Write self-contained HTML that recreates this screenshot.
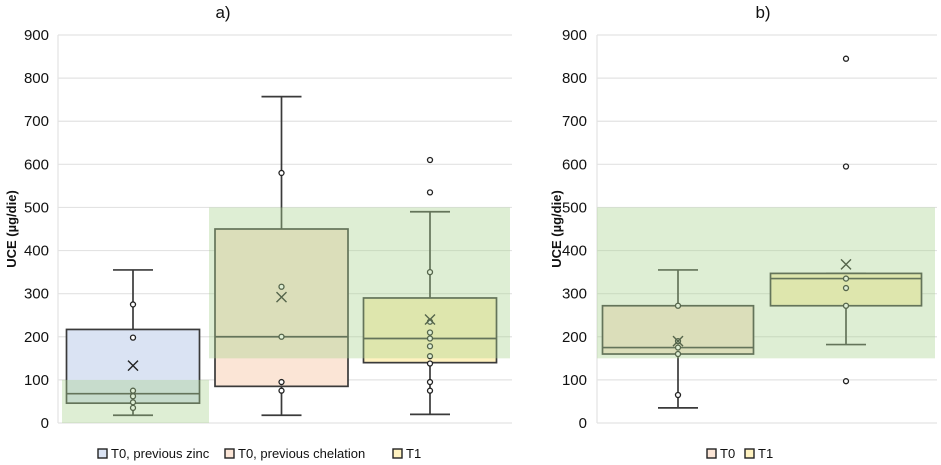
<!DOCTYPE html>
<html><head><meta charset="utf-8">
<style>
html,body{margin:0;padding:0;background:#fff;}
svg{display:block;font-family:"Liberation Sans",Calibri,sans-serif;}
</style></head>
<body>
<svg id="chart" width="941" height="465" viewBox="0 0 941 465" xmlns="http://www.w3.org/2000/svg"></svg>
<script>
// ---- Panel a data ----
const catsA = ["T0, previous zinc", "T0, previous chelation", "T1"];
const q1A = [46, 85, 140];
const medA = [68, 200, 196];
const q3A = [217, 450, 290];
const loA = [18, 18, 20];
const hiA = [355, 757, 490];
const meanA = [133, 292, 240];
const ptsA = [
  [275, 198, 75, 62, 48, 35],
  [580, 316, 200, 95, 75],
  [610, 535, 350, 235, 210, 196, 178, 155, 138, 95, 75]
];
const bandLoA = [0, 150];
const bandHiA = [100, 500];
// ---- Panel b data ----
const catsB = ["T0", "T1"];
const q1B = [160, 272];
const medB = [175, 335];
const q3B = [272, 347];
const loB = [35, 182];
const hiB = [355, 347];
const meanB = [190, 368];
const ptsB = [
  [272, 190, 175, 160, 65],
  [845, 595, 335, 313, 272, 97]
];
const bandB = [150, 500];
const ticks = [0, 100, 200, 300, 400, 500, 600, 700, 800, 900];

const NS = "http://www.w3.org/2000/svg";
const svg = document.getElementById("chart");
function mk(tag, attrs, parent) {
  const e = document.createElementNS(NS, tag);
  for (const k in attrs) e.setAttribute(k, attrs[k]);
  (parent || svg).appendChild(e);
  return e;
}
const y0 = 423, yTop = 35;
function yS(v) { return y0 - v / 900 * (y0 - yTop); }

const fillsA = ["#dae3f3", "#fbe5d6", "#fff2c0"];
const fillsB = ["#fbe5d6", "#fff2c0"];
const stroke = "#3a3a3a";

function panel(opts) {
  const g = mk("g", {});
  
  
  ticks.forEach(t => {
    const l = mk("line", {x1: opts.left, x2: opts.right, y1: yS(t), y2: yS(t), stroke: "#e3e3e3", "stroke-width": 1.2}, g);
    
    
    const tx = mk("text", {x: opts.tickX, y: yS(t) + 5, "text-anchor": "end", "font-size": 15, fill: "#111"}, g);
    tx.textContent = t;
    
    
  });
  const ax = mk("line", {x1: opts.left, x2: opts.left, y1: yTop, y2: y0, stroke: "#e3e3e3", "stroke-width": 1.2}, g);
  
  
  const yt = mk("text", {x: 0, y: 0, "text-anchor": "middle", "font-size": 13, "font-weight": "bold", fill: "#111",
    transform: "translate(" + opts.yTitleX + "," + yS(450) + ") rotate(-90)"}, g);
  yt.textContent = "UCE (µg/die)";
  
  
  const tt = mk("text", {x: opts.titleX, y: 18, "text-anchor": "middle", "font-size": 17, fill: "#111"}, g);
  tt.textContent = opts.title;
  
  
  opts.cats.forEach((c, i) => {
    const cx = opts.cx(i), w = opts.bw;
    const bg = mk("g", {}, g);
    
    
    mk("line", {x1: cx, x2: cx, y1: yS(opts.hi[i]), y2: yS(opts.lo[i]), stroke: stroke, "stroke-width": 1.7}, bg);
    mk("line", {x1: cx - 20, x2: cx + 20, y1: yS(opts.hi[i]), y2: yS(opts.hi[i]), stroke: stroke, "stroke-width": 1.7}, bg);
    mk("line", {x1: cx - 20, x2: cx + 20, y1: yS(opts.lo[i]), y2: yS(opts.lo[i]), stroke: stroke, "stroke-width": 1.7}, bg);
    mk("rect", {x: cx - w / 2, y: yS(opts.q3[i]), width: w, height: yS(opts.q1[i]) - yS(opts.q3[i]), fill: opts.fills[i], stroke: stroke, "stroke-width": 1.7}, bg);
    mk("line", {x1: cx - w / 2, x2: cx + w / 2, y1: yS(opts.med[i]), y2: yS(opts.med[i]), stroke: stroke, "stroke-width": 1.7}, bg);
    opts.pts[i].forEach(p => {
      const pc = mk("circle", {cx: cx, cy: yS(p), r: 2.5, fill: "#fff", stroke: "#222", "stroke-width": 1.3}, bg);
      
      
    });
    const my = yS(opts.mean[i]), s = 5;
    const mx = mk("path", {d: "M" + (cx - s) + " " + (my - s) + "L" + (cx + s) + " " + (my + s) + "M" + (cx + s) + " " + (my - s) + "L" + (cx - s) + " " + (my + s), stroke: "#222", "stroke-width": 1.4}, bg);
    
    
  });
  opts.bands.forEach(b => {
    const r = mk("rect", {x: b[0], y: yS(b[3]), width: b[1] - b[0], height: yS(b[2]) - yS(b[3]), fill: "#a9d18e", "fill-opacity": 0.38}, g);
    
    
  });
  opts.legend.forEach((L, i) => {
    const lg = mk("g", {}, g);
    
    
    mk("rect", {x: L, y: 449, width: 9, height: 9, fill: opts.fills[i], stroke: "#222", "stroke-width": 1.4}, lg);
    const t = mk("text", {x: L + 13, y: 458, "font-size": 13, fill: "#111"}, lg);
    t.textContent = opts.cats[i];
  });
}

panel({
  name: "panel-a", title: "a)", titleX: 223, left: 58, right: 512, tickX: 49, yTitleX: 16,
  cats: catsA, q1: q1A, med: medA, q3: q3A, lo: loA, hi: hiA, mean: meanA, pts: ptsA, fills: fillsA,
  cx: i => 133 + i * 148.5, bw: 133,
  bands: [[62, 209, bandLoA[0], bandHiA[0]], [209, 510, bandLoA[1], bandHiA[1]]],
  legend: [98, 225, 393]
});
panel({
  name: "panel-b", title: "b)", titleX: 763, left: 597, right: 937, tickX: 587, yTitleX: 561,
  cats: catsB, q1: q1B, med: medB, q3: q3B, lo: loB, hi: hiB, mean: meanB, pts: ptsB, fills: fillsB,
  cx: i => 678 + i * 168, bw: 151,
  bands: [[597, 935, bandB[0], bandB[1]]],
  legend: [707, 745]
});
</script>
</body></html>
